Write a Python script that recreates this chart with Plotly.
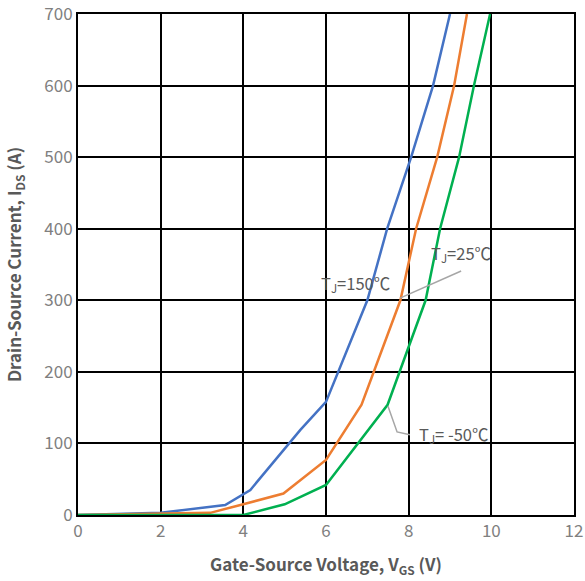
import plotly.graph_objects as go

# Data
vgs_150 = [0, 2, 3.56, 4.17, 5.38, 6.0, 7.0, 7.48, 8.06, 8.59, 9.0]
ids_150 = [0, 3, 14, 35, 119, 158, 300, 400, 500, 600, 700]

vgs_25 = [0, 3.2, 3.93, 4.97, 6.0, 6.86, 7.8, 8.18, 8.69, 9.1, 9.41]
ids_25 = [0, 3, 14, 30, 77, 154, 300, 400, 500, 600, 700]

vgs_m50 = [0, 4.0, 5.0, 6.0, 7.49, 8.41, 8.76, 9.22, 9.58, 9.97]
ids_m50 = [0, 0, 15, 42, 154, 300, 400, 500, 600, 700]

x_ticks = [0, 2, 4, 6, 8, 10, 12]
y_ticks = [0, 100, 200, 300, 400, 500, 600, 700]

FONT = "Noto Sans CJK SC, Noto Sans, sans-serif"

fig = go.Figure()
fig.add_trace(go.Scatter(x=vgs_150, y=ids_150, mode="lines",
                         line=dict(color="#4472C4", width=2.5), name="150"))
fig.add_trace(go.Scatter(x=vgs_25, y=ids_25, mode="lines",
                         line=dict(color="#ED7D31", width=2.5), name="25"))
fig.add_trace(go.Scatter(x=vgs_m50, y=ids_m50, mode="lines",
                         line=dict(color="#00B050", width=2.5), name="-50"))

# Leader lines
fig.add_shape(type="line", x0=7.79, y0=303, x1=9.27, y1=341,
              line=dict(color="#A6A6A6", width=1.5))
fig.add_shape(type="path", path="M 7.5 152 L 7.72 116 L 8.03 112",
              line=dict(color="#A6A6A6", width=1.5))

ann_font = dict(family=FONT, size=16.5, color="#595959")
fig.add_annotation(x=5.84, y=324, text="T<sub>J</sub>=150℃", showarrow=False,
                   xanchor="left", yanchor="middle", font=ann_font)
fig.add_annotation(x=8.5, y=366, text="T<sub>J</sub>=25℃", showarrow=False,
                   xanchor="left", yanchor="middle", font=ann_font)
fig.add_annotation(x=8.2, y=112, text="T<sub>J</sub>= -50℃", showarrow=False,
                   xanchor="left", yanchor="middle", font=ann_font)

fig.update_layout(
    width=585, height=581,
    margin=dict(l=78, r=11, t=14, b=66),
    plot_bgcolor="white", paper_bgcolor="white",
    showlegend=False,
    font=dict(family=FONT, color="#7F7F7F"),
)
fig.update_xaxes(
    range=[0, 12], tickvals=x_ticks, showgrid=True, gridcolor="black", gridwidth=2,
    showline=True, linecolor="black", linewidth=2, mirror=True, zeroline=False,
    tickfont=dict(family=FONT, size=17, color="#808080"), ticks="", automargin=False,
    ticklabeloverflow="allow",
    title=dict(text="<b>Gate-Source Voltage, V<sub>GS</sub> (V)</b>",
               font=dict(family=FONT, size=17, color="#595959"), standoff=18),
)
fig.update_yaxes(
    range=[0, 700], tickvals=y_ticks, showgrid=True, gridcolor="black", gridwidth=2,
    showline=True, linecolor="black", linewidth=2, mirror=True, zeroline=False,
    tickfont=dict(family=FONT, size=17, color="#808080"), ticks="", automargin=False,
    ticklabeloverflow="allow",
    title=dict(text="<b>Drain-Source Current, I<sub>DS</sub> (A)</b>",
               font=dict(family=FONT, size=17, color="#595959"), standoff=18),
)

fig.write_html("out.html", config={"displayModeBar": False},
               post_script="document.body.style.margin='0';")
